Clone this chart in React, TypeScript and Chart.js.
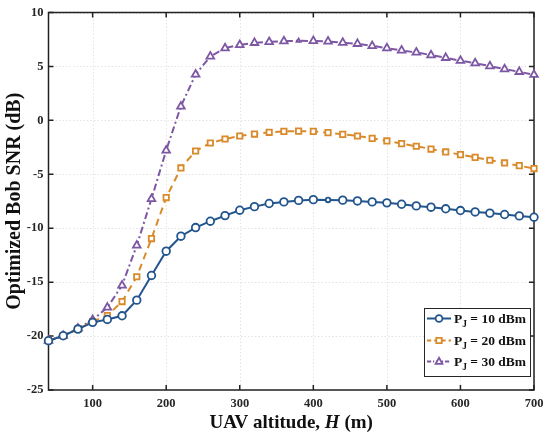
import React, { useEffect, useRef } from "react";
import { Chart, registerables } from "chart.js";

Chart.register(...registerables);

const ALTITUDES = [40, 60, 80, 100, 120, 140, 160, 180, 200, 220, 240, 260, 280, 300, 320, 340, 360, 380, 400, 420, 440, 460, 480, 500, 520, 540, 560, 580, 600, 620, 640, 660, 680, 700];

const SNR_10DBM = [-20.43, -19.97, -19.35, -18.73, -18.46, -18.12, -16.67, -14.38, -12.13, -10.74, -9.94, -9.35, -8.83, -8.33, -8.0, -7.71, -7.56, -7.42, -7.35, -7.38, -7.4, -7.47, -7.56, -7.65, -7.78, -7.93, -8.05, -8.2, -8.36, -8.49, -8.6, -8.73, -8.86, -8.98];

const SNR_20DBM = [-20.43, -19.97, -19.35, -18.65, -18.1, -16.8, -14.5, -10.96, -7.16, -4.41, -2.84, -2.1, -1.73, -1.45, -1.27, -1.11, -1.02, -1.0, -1.02, -1.14, -1.3, -1.45, -1.67, -1.91, -2.16, -2.4, -2.66, -2.93, -3.18, -3.43, -3.7, -3.95, -4.2, -4.47];

const SNR_30DBM = [-20.43, -19.97, -19.3, -18.5, -17.35, -15.3, -11.6, -7.28, -2.78, 1.3, 4.26, 5.93, 6.7, 7.0, 7.19, 7.28, 7.35, 7.38, 7.36, 7.32, 7.2, 7.1, 6.91, 6.7, 6.48, 6.3, 6.05, 5.8, 5.53, 5.31, 5.03, 4.75, 4.5, 4.23];

const X_TICKS = [100, 200, 300, 400, 500, 600, 700];
const Y_TICKS = [-25, -20, -15, -10, -5, 0, 5, 10];

const LEGEND_LABELS = ["10 dBm", "20 dBm", "30 dBm"];
const X_TITLE_PARTS = ["UAV altitude, ", "H", " (m)"];
const Y_TITLE = "Optimized Bob SNR (dB)";

const BLUE = "#22558d";
const ORANGE = "#d98a2a";
const PURPLE = "#7d57a4";
const SERIF = '"Liberation Serif", "Times New Roman", serif';

const STYLES = [
  { color: BLUE, dash: [] as number[], marker: "circle" },
  { color: ORANGE, dash: [7, 5], marker: "rect" },
  { color: PURPLE, dash: [7, 3, 2, 3], marker: "triangle" },
];

function drawMarker(ctx: CanvasRenderingContext2D, kind: string, x: number, y: number, r: number, color: string) {
  ctx.save();
  ctx.setLineDash([]);
  ctx.strokeStyle = color;
  ctx.fillStyle = "#ffffff";
  ctx.lineWidth = 1.8;
  ctx.beginPath();
  if (kind === "circle") {
    ctx.arc(x, y, r, 0, Math.PI * 2);
  } else if (kind === "rect") {
    ctx.rect(x - r * 0.8, y - r * 0.8, r * 1.6, r * 1.6);
  } else {
    ctx.moveTo(x, y - r * 1.1);
    ctx.lineTo(x + r, y + r * 0.7);
    ctx.lineTo(x - r, y + r * 0.7);
    ctx.closePath();
  }
  ctx.fill();
  ctx.stroke();
  ctx.restore();
}

const framePlugin = {
  id: "matlabFrame",
  beforeDatasetsDraw(chart: any) {
    const { ctx, chartArea: a, scales } = chart;
    const xs = scales.x;
    const ys = scales.y;
    ctx.save();
    ctx.strokeStyle = "#dcdcdc";
    ctx.lineWidth = 0.8;
    ctx.setLineDash([1.5, 2]);
    X_TICKS.forEach((v) => {
      const px = Math.round(xs.getPixelForValue(v)) + 0.5;
      ctx.beginPath();
      ctx.moveTo(px, a.top);
      ctx.lineTo(px, a.bottom);
      ctx.stroke();
    });
    Y_TICKS.forEach((v) => {
      const py = Math.round(ys.getPixelForValue(v)) + 0.5;
      ctx.beginPath();
      ctx.moveTo(a.left, py);
      ctx.lineTo(a.right, py);
      ctx.stroke();
    });
    ctx.setLineDash([]);
    ctx.strokeStyle = "#222222";
    ctx.lineWidth = 1.5;
    ctx.strokeRect(a.left, a.top, a.right - a.left, a.bottom - a.top);
    const tl = 5;
    ctx.beginPath();
    X_TICKS.forEach((v) => {
      const px = xs.getPixelForValue(v);
      ctx.moveTo(px, a.bottom);
      ctx.lineTo(px, a.bottom - tl);
      ctx.moveTo(px, a.top);
      ctx.lineTo(px, a.top + tl);
    });
    Y_TICKS.forEach((v) => {
      const py = ys.getPixelForValue(v);
      ctx.moveTo(a.left, py);
      ctx.lineTo(a.left + tl, py);
      ctx.moveTo(a.right, py);
      ctx.lineTo(a.right - tl, py);
    });
    ctx.stroke();
    ctx.restore();
  },
  afterDraw(chart: any) {
    const { ctx, chartArea: a } = chart;
    ctx.save();
    ctx.fillStyle = "#111111";
    ctx.font = `bold 20px ${SERIF}`;
    ctx.textAlign = "center";
    ctx.textBaseline = "middle";
    ctx.translate(15, (a.top + a.bottom) / 2);
    ctx.rotate(-Math.PI / 2);
    ctx.fillText(Y_TITLE, 0, 0);
    ctx.restore();

    ctx.save();
    ctx.fillStyle = "#111111";
    ctx.textBaseline = "alphabetic";
    ctx.textAlign = "left";
    const fonts = [`bold 19px ${SERIF}`, `italic bold 19px ${SERIF}`, `bold 19px ${SERIF}`];
    let total = 0;
    const widths = X_TITLE_PARTS.map((t, i) => {
      ctx.font = fonts[i];
      const w = ctx.measureText(t).width;
      total += w;
      return w;
    });
    let x = (a.left + a.right) / 2 - total / 2;
    X_TITLE_PARTS.forEach((t, i) => {
      ctx.font = fonts[i];
      ctx.fillText(t, x, 428);
      x += widths[i];
    });
    ctx.restore();

    ctx.save();
    const bx = 424, by = 308, bw = 106, bh = 68;
    ctx.fillStyle = "#ffffff";
    ctx.fillRect(bx, by, bw, bh);
    ctx.strokeStyle = "#262626";
    ctx.lineWidth = 1;
    ctx.strokeRect(bx + 0.5, by + 0.5, bw, bh);
    const rows = [318.5, 340.5, 361.5];
    LEGEND_LABELS.forEach((label, i) => {
      const st = STYLES[i];
      const ry = rows[i];
      ctx.strokeStyle = st.color;
      ctx.lineWidth = 2;
      ctx.setLineDash(st.dash.length ? st.dash.map((d) => d * 0.6) : []);
      ctx.beginPath();
      ctx.moveTo(427, ry);
      ctx.lineTo(451, ry);
      ctx.stroke();
      ctx.setLineDash([]);
      drawMarker(ctx, st.marker, 439, ry, 3.4, st.color);
      ctx.fillStyle = "#111111";
      ctx.textBaseline = "alphabetic";
      ctx.font = `bold 13.5px ${SERIF}`;
      let tx = 454;
      ctx.fillText("P", tx, ry + 4);
      tx += ctx.measureText("P").width;
      ctx.font = `bold 9.5px ${SERIF}`;
      ctx.fillText("J", tx, ry + 8);
      tx += ctx.measureText("J").width;
      ctx.font = `bold 13.5px ${SERIF}`;
      ctx.fillText(" = " + label, tx, ry + 4);
    });
    ctx.restore();
  },
};

export default function App() {
  const ref = useRef<HTMLCanvasElement | null>(null);

  useEffect(() => {
    if (!ref.current) return;
    const mk = (data: number[], i: number, radii?: number[]) => ({
      label: LEGEND_LABELS[i],
      data: ALTITUDES.map((x, k) => ({ x, y: data[k] })),
      borderColor: STYLES[i].color,
      borderWidth: 2,
      borderDash: STYLES[i].dash,
      pointStyle: STYLES[i].marker,
      pointRadius: radii || 3.8,
      pointBorderWidth: 1.8,
      pointBackgroundColor: "#ffffff",
      pointBorderColor: STYLES[i].color,
      fill: false,
      tension: 0,
      clip: false as any,
    });
    const sized = (idx: number, base: number) => ALTITUDES.map((_, k) => (k === idx ? 2.3 : base));
    const chart = new Chart(ref.current, {
      type: "line",
      data: {
        datasets: [
          mk(SNR_10DBM, 0, sized(19, 3.8)),
          mk(SNR_20DBM, 1),
          mk(SNR_30DBM, 2, sized(17, 4.4)),
        ] as any,
      },
      options: {
        animation: false,
        responsive: false,
        layout: { padding: { top: 12, right: 16, left: 0, bottom: 0 } },
        plugins: { legend: { display: false }, tooltip: { enabled: false } },
        scales: {
          x: {
            type: "linear",
            min: 40,
            max: 700,
            grid: { display: false, drawTicks: false },
            border: { display: false },
            afterBuildTicks: (s: any) => {
              s.ticks = X_TICKS.map((v) => ({ value: v }));
            },
            afterFit: (s: any) => {
              s.height = 48;
            },
            ticks: {
              padding: 6,
              color: "#262626",
              font: { family: SERIF, size: 12.5, weight: "bold" },
              maxRotation: 0,
            },
          },
          y: {
            type: "linear",
            min: -25,
            max: 10,
            grid: { display: false, drawTicks: false },
            border: { display: false },
            afterBuildTicks: (s: any) => {
              s.ticks = Y_TICKS.map((v) => ({ value: v }));
            },
            afterFit: (s: any) => {
              s.width = 48.5;
            },
            ticks: {
              padding: 5,
              color: "#262626",
              font: { family: SERIF, size: 12.5, weight: "bold" },
            },
          },
        },
      } as any,
      plugins: [framePlugin],
    });
    return () => chart.destroy();
  }, []);

  return (
    <div style={{ position: "fixed", left: 0, top: 0, width: 550, height: 438, background: "#fff" }}>
      <canvas ref={ref} width={550} height={438} style={{ display: "block", width: 550, height: 438 }} />
    </div>
  );
}
